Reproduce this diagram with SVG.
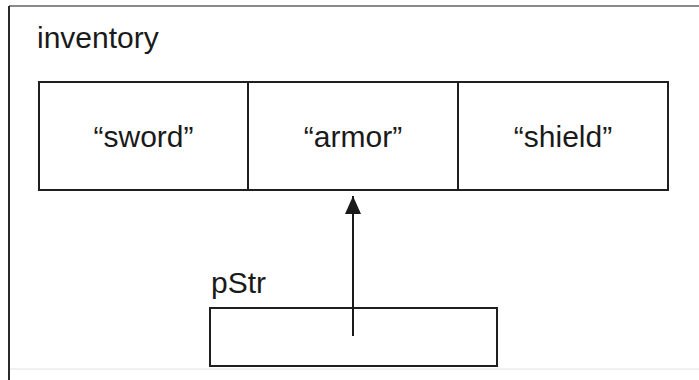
<svg xmlns="http://www.w3.org/2000/svg" width="699" height="380" viewBox="0 0 699 380">
  <defs>
    <marker id="arrow" viewBox="0 0 18 16" refX="18" refY="8" markerWidth="18" markerHeight="16" markerUnits="userSpaceOnUse" orient="auto">
      <path d="M0,0 L18,8 L0,16 Z" fill="#1a1a1a"/>
    </marker>
  </defs>
  <style>
    .box { fill: #ffffff; stroke: #1f1f1f; stroke-width: 2; }
    .lbl { font-family: "Liberation Sans", Arial, sans-serif; font-size: 30px; fill: #1a1a1a; }
    .cell { text-anchor: middle; }
    .frame { stroke: #8a8a8a; stroke-width: 2; fill: none; }
    .edge { stroke: #1a1a1a; stroke-width: 2; fill: none; }
  </style>
  <rect width="699" height="380" fill="#ffffff"/>
  <g id="frame">
    <line class="frame" x1="9" y1="6" x2="699" y2="6"/>
    <line x1="9" y1="6" x2="9" y2="380" stroke="#2a2a2a" stroke-width="2"/>
    <line x1="10" y1="369" x2="699" y2="369" stroke="#e2e2e2" stroke-width="1"/>
  </g>
  <g id="inventory">
    <text class="lbl" x="37" y="48">inventory</text>
    <g id="cell-sword">
      <rect class="box" x="39" y="82" width="209" height="108"/>
      <text class="lbl cell" x="143.5" y="147">“sword”</text>
    </g>
    <g id="cell-armor">
      <rect class="box" x="248" y="82" width="210" height="108"/>
      <text class="lbl cell" x="353" y="147">“armor”</text>
    </g>
    <g id="cell-shield">
      <rect class="box" x="458" y="82" width="210" height="108"/>
      <text class="lbl cell" x="563" y="147">“shield”</text>
    </g>
  </g>
  <g id="pStr">
    <text class="lbl" x="211" y="293">pStr</text>
    <rect class="box" x="210" y="308" width="287" height="58"/>
  </g>
  <g id="connectors">
    <line class="edge" x1="353" y1="336" x2="353" y2="196" marker-end="url(#arrow)"/>
  </g>
</svg>
